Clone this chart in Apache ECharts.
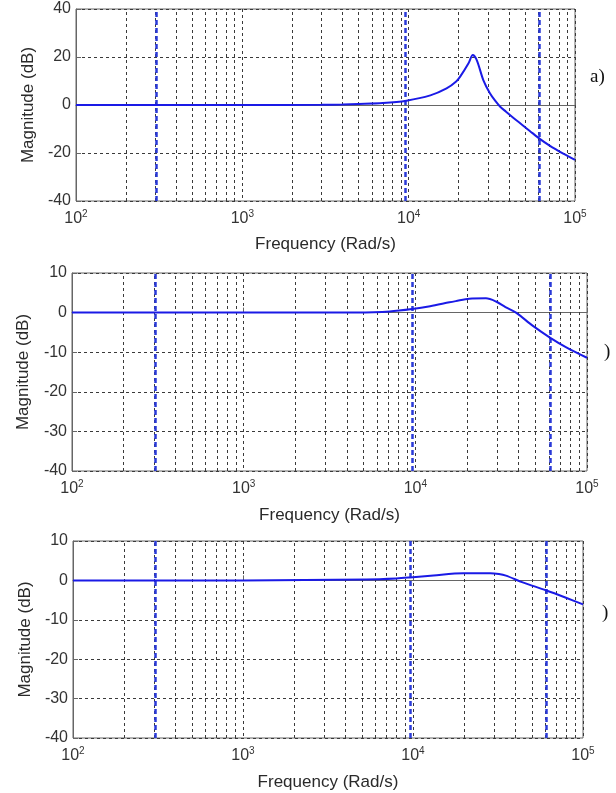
<!DOCTYPE html>
<html>
<head>
<meta charset="utf-8">
<script src="https://cdn.jsdelivr.net/npm/echarts@6/dist/echarts.min.js"></script>
<style>
html,body{margin:0;padding:0;background:#fff;}
#chart{width:616px;height:793px;}
</style>
</head>
<body>
<div id="chart"></div>
<script>
// Panel a
const freqA = [100, 1000, 3000, 4000, 5000, 7000, 9700, 13500, 16900, 19300, 20400, 22900, 24300, 25700, 28100, 30800, 33100, 35500, 38500, 42700, 48000, 53700, 61700, 70000, 77600, 85000, 100000];
const magA  = [0, 0, 0.1, 0.2, 0.4, 0.8, 1.8, 4.0, 6.9, 9.8, 11.8, 17.4, 20.8, 18.6, 10.4, 4.9, 1.8, -0.7, -2.8, -5.4, -8.2, -10.9, -14.2, -16.8, -18.7, -20.3, -22.9];
// Panel b
const freqB = [100, 1000, 4500, 7100, 9600, 12200, 15800, 17200, 20600, 25800, 29500, 33500, 38600, 48200, 60800, 75300, 100000];
const magB  = [0, 0, 0.05, 0.3, 0.9, 1.6, 2.6, 2.9, 3.5, 3.6, 2.8, 1.4, 0, -3.3, -6.3, -8.7, -11.4];
// Panel c
const freqC = [100, 1000, 5300, 8000, 9600, 13200, 19800, 28400, 32000, 35200, 44200, 60500, 79400, 100000];
const magC  = [0, 0, 0.25, 0.5, 0.75, 1.27, 1.8, 1.8, 1.6, 1.2, -0.5, -2.5, -4.4, -6.1];
// Vertical dashed marker frequencies
const markerFreqs = [305, 9600, 61000];
// Minor log grid lines
const minorGridFreqs = [200,300,400,500,600,700,800,900,2000,3000,4000,5000,6000,7000,8000,9000,20000,30000,40000,50000,60000,70000,80000,90000];
// Axis ranges / ticks
const xRange = [100, 100000];
const yTicksA = [-40, -20, 0, 20, 40];
const yTicksB = [-40, -30, -20, -10, 0, 10];
const yTicksC = [-40, -30, -20, -10, 0, 10];
const panelTags = ['a)', ')', ')'];

const chart = echarts.init(document.getElementById('chart'), null, {renderer: 'canvas'});
const FONT = 'Liberation Sans, Arial, sans-serif';
const gridCol = '#3a3a3a';
const curveCol = '#1a1ae6';
const markCol = '#2a3ad8';

const grids = [
  {left: 76, top: 9, width: 499, height: 192},
  {left: 72, top: 273, width: 515, height: 198},
  {left: 73, top: 541, width: 510, height: 197}
];
const yTicks = [yTicksA, yTicksB, yTicksC];
const nameGapsX = [35, 36, 36];
const nameGapsY = [39, 40, 39];

function xAxisFor(i) {
  return {
    type: 'log', logBase: 10, gridIndex: i, min: xRange[0], max: xRange[1],
    name: 'Frequency (Rad/s)', nameLocation: 'middle', nameGap: nameGapsX[i],
    nameTextStyle: {fontFamily: FONT, fontSize: 17, color: '#2a2a2a'},
    axisLine: {show: true, lineStyle: {color: '#666', width: 1}},
    axisTick: {show: true, inside: true, length: 5, lineStyle: {color: '#666'}},
    splitLine: {show: true, lineStyle: {color: gridCol, type: [3, 3], width: 1}},
    axisLabel: {
      margin: 8,
      formatter: v => '{b|10}{s|' + Math.round(Math.log10(v)) + '}',
      rich: {
        b: {fontFamily: FONT, fontSize: 16, color: '#333'},
        s: {fontFamily: FONT, fontSize: 10, color: '#333', padding: [0, 0, 9, 0]}
      }
    }
  };
}
function yAxisFor(i) {
  const t = yTicks[i];
  return {
    type: 'value', gridIndex: i, min: t[0], max: t[t.length - 1], interval: t[1] - t[0],
    name: 'Magnitude (dB)', nameLocation: 'middle', nameGap: nameGapsY[i],
    nameTextStyle: {fontFamily: FONT, fontSize: 17, color: '#2a2a2a'},
    axisLine: {show: true, lineStyle: {color: '#666', width: 1}},
    axisTick: {show: true, inside: true, length: 5, lineStyle: {color: '#666'}},
    splitLine: {show: true, lineStyle: {color: gridCol, type: [3, 3], width: 1}},
    axisLabel: {margin: 5, fontFamily: FONT, fontSize: 16, color: '#333'}
  };
}

const datasets = [[freqA, magA], [freqB, magB], [freqC, magC]];
const series = [];
datasets.forEach(([f, m], i) => {
  series.push({
    type: 'line', xAxisIndex: i, yAxisIndex: i, data: [], silent: true, z: 1,
    markLine: {
      silent: true, symbol: ['none', 'none'], label: {show: false}, animation: false,
      lineStyle: {color: gridCol, type: [3, 3], width: 1},
      data: minorGridFreqs.map(v => ({xAxis: v}))
    }
  });
  series.push({
    type: 'line', xAxisIndex: i, yAxisIndex: i, z: 5,
    data: f.map((x, k) => [x, m[k]]),
    showSymbol: false, smooth: 0.3,
    lineStyle: {color: curveCol, width: 2},
    markLine: {
      silent: true, symbol: ['none', 'none'], label: {show: false}, animation: false,
      lineStyle: {color: markCol, type: [5, 3], width: 2.5},
      data: markerFreqs.map(v => ({xAxis: v}))
    }
  });
});

const tagPos = [[590, 68], [604, 343], [602, 604]];
chart.setOption({
  animation: false,
  backgroundColor: '#fff',
  grid: grids.map(g => Object.assign({show: true, borderColor: '#666', borderWidth: 1, backgroundColor: '#fff', containLabel: false}, g)),
  xAxis: [0, 1, 2].map(xAxisFor),
  yAxis: [0, 1, 2].map(yAxisFor),
  series: series,
  graphic: panelTags.map((t, i) => ({
    type: 'text', left: tagPos[i][0], top: tagPos[i][1],
    style: {text: t, font: '19px "Liberation Serif", "Times New Roman", serif', fill: '#111'}
  }))
});
</script>
</body>
</html>
